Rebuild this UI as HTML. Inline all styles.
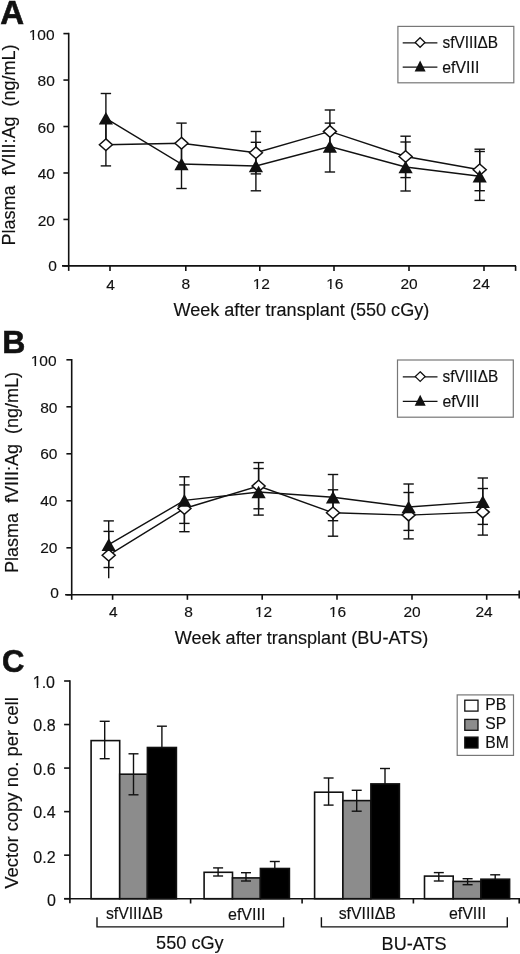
<!DOCTYPE html>
<html><head><meta charset="utf-8"><style>
html,body{margin:0;padding:0;background:#fff;}
body{width:520px;height:954px;overflow:hidden;}
svg{display:block;filter:grayscale(1) blur(0.3px);}
text{font-family:"Liberation Sans",sans-serif;fill:#111;stroke:#111;stroke-width:0.15px;}
text[font-weight=bold]{stroke-width:0.6px;}
</style></head><body>
<svg width="520" height="954" viewBox="0 0 520 954">
<rect width="520" height="954" fill="#fff"/>
<line x1="68.7" y1="32.800000000000004" x2="68.7" y2="265.9" stroke="#111" stroke-width="1.6" />
<line x1="62" y1="265.9" x2="516" y2="265.9" stroke="#111" stroke-width="1.6" />
<line x1="63.400000000000006" y1="33.6" x2="68.7" y2="33.6" stroke="#111" stroke-width="1.6" />
<line x1="63.400000000000006" y1="80.06" x2="68.7" y2="80.06" stroke="#111" stroke-width="1.6" />
<line x1="63.400000000000006" y1="126.51999999999998" x2="68.7" y2="126.51999999999998" stroke="#111" stroke-width="1.6" />
<line x1="63.400000000000006" y1="172.98" x2="68.7" y2="172.98" stroke="#111" stroke-width="1.6" />
<line x1="63.400000000000006" y1="219.43999999999997" x2="68.7" y2="219.43999999999997" stroke="#111" stroke-width="1.6" />
<line x1="63.400000000000006" y1="265.90000000000003" x2="68.7" y2="265.90000000000003" stroke="#111" stroke-width="1.6" />
<line x1="68.7" y1="265.9" x2="68.7" y2="270.9" stroke="#111" stroke-width="1.6" />
<line x1="110" y1="265.9" x2="110" y2="270.9" stroke="#111" stroke-width="1.6" />
<line x1="185.8" y1="265.9" x2="185.8" y2="270.9" stroke="#111" stroke-width="1.6" />
<line x1="259.8" y1="265.9" x2="259.8" y2="270.9" stroke="#111" stroke-width="1.6" />
<line x1="334" y1="265.9" x2="334" y2="270.9" stroke="#111" stroke-width="1.6" />
<line x1="409" y1="265.9" x2="409" y2="270.9" stroke="#111" stroke-width="1.6" />
<line x1="484" y1="265.9" x2="484" y2="270.9" stroke="#111" stroke-width="1.6" />
<line x1="515.6" y1="265.9" x2="515.6" y2="270.9" stroke="#111" stroke-width="1.6" />
<text x="54.6" y="39.6" font-size="15.5" text-anchor="end">100</text>
<rect x="29.12" y="37.39" width="3.41" height="3.41" fill="#fff"/>
<rect x="34.10" y="37.39" width="3.29" height="3.41" fill="#fff"/>
<text x="54.8" y="86.2" font-size="15.5" text-anchor="end">80</text>
<text x="54.8" y="132.6" font-size="15.5" text-anchor="end">60</text>
<text x="54.9" y="178.9" font-size="15.5" text-anchor="end">40</text>
<text x="54.9" y="225.7" font-size="15.5" text-anchor="end">20</text>
<text x="56.9" y="270.6" font-size="15.5" text-anchor="end">0</text>
<text x="110.6" y="290.2" font-size="15.5" text-anchor="middle">4</text>
<text x="185.8" y="289.4" font-size="15.5" text-anchor="middle">8</text>
<text x="261.3" y="289.2" font-size="15.5" text-anchor="middle">12</text>
<rect x="253.06" y="286.99" width="3.41" height="3.41" fill="#fff"/>
<rect x="258.04" y="286.99" width="3.29" height="3.41" fill="#fff"/>
<text x="334.8" y="289.4" font-size="15.5" text-anchor="middle">16</text>
<rect x="326.56" y="287.19" width="3.41" height="3.41" fill="#fff"/>
<rect x="331.54" y="287.19" width="3.29" height="3.41" fill="#fff"/>
<text x="409" y="289.4" font-size="15.5" text-anchor="middle">20</text>
<text x="481.2" y="289.2" font-size="15.5" text-anchor="middle">24</text>
<text x="173.4" y="315.8" font-size="18" textLength="255.9" lengthAdjust="spacingAndGlyphs">Week after transplant (550 cGy)</text>
<text x="15.3" y="245.5" font-size="18" transform="rotate(-90 15.3 245.5)">Plasma &#160;fVIII:Ag &#160;(ng/mL)</text>
<text x="0.3" y="23.8" font-size="33" font-weight="bold">A</text>
<line x1="105.9" y1="123.5" x2="105.9" y2="165.9" stroke="#111" stroke-width="1.4" />
<line x1="100.7" y1="165.9" x2="111.10000000000001" y2="165.9" stroke="#111" stroke-width="1.4" />
<line x1="105.9" y1="93.5" x2="105.9" y2="143.1" stroke="#111" stroke-width="1.4" />
<line x1="100.7" y1="93.5" x2="111.10000000000001" y2="93.5" stroke="#111" stroke-width="1.4" />
<line x1="181.5" y1="123.1" x2="181.5" y2="163.3" stroke="#111" stroke-width="1.4" />
<line x1="176.3" y1="123.1" x2="186.7" y2="123.1" stroke="#111" stroke-width="1.4" />
<line x1="181.5" y1="139.5" x2="181.5" y2="188.5" stroke="#111" stroke-width="1.4" />
<line x1="176.3" y1="188.5" x2="186.7" y2="188.5" stroke="#111" stroke-width="1.4" />
<line x1="255.9" y1="131.5" x2="255.9" y2="173.9" stroke="#111" stroke-width="1.4" />
<line x1="250.70000000000002" y1="131.5" x2="261.1" y2="131.5" stroke="#111" stroke-width="1.4" />
<line x1="250.70000000000002" y1="173.9" x2="261.1" y2="173.9" stroke="#111" stroke-width="1.4" />
<line x1="255.9" y1="142.3" x2="255.9" y2="190.8" stroke="#111" stroke-width="1.4" />
<line x1="250.70000000000002" y1="142.3" x2="261.1" y2="142.3" stroke="#111" stroke-width="1.4" />
<line x1="250.70000000000002" y1="190.8" x2="261.1" y2="190.8" stroke="#111" stroke-width="1.4" />
<line x1="329.9" y1="110" x2="329.9" y2="152.8" stroke="#111" stroke-width="1.4" />
<line x1="324.7" y1="110" x2="335.09999999999997" y2="110" stroke="#111" stroke-width="1.4" />
<line x1="329.9" y1="123.1" x2="329.9" y2="172" stroke="#111" stroke-width="1.4" />
<line x1="324.7" y1="123.1" x2="335.09999999999997" y2="123.1" stroke="#111" stroke-width="1.4" />
<line x1="324.7" y1="172" x2="335.09999999999997" y2="172" stroke="#111" stroke-width="1.4" />
<line x1="405.6" y1="136.2" x2="405.6" y2="177.6" stroke="#111" stroke-width="1.4" />
<line x1="400.40000000000003" y1="136.2" x2="410.8" y2="136.2" stroke="#111" stroke-width="1.4" />
<line x1="400.40000000000003" y1="177.6" x2="410.8" y2="177.6" stroke="#111" stroke-width="1.4" />
<line x1="405.6" y1="142" x2="405.6" y2="191" stroke="#111" stroke-width="1.4" />
<line x1="400.40000000000003" y1="142" x2="410.8" y2="142" stroke="#111" stroke-width="1.4" />
<line x1="400.40000000000003" y1="191" x2="410.8" y2="191" stroke="#111" stroke-width="1.4" />
<line x1="479.7" y1="149.2" x2="479.7" y2="190.7" stroke="#111" stroke-width="1.4" />
<line x1="474.5" y1="149.2" x2="484.9" y2="149.2" stroke="#111" stroke-width="1.4" />
<line x1="474.5" y1="190.7" x2="484.9" y2="190.7" stroke="#111" stroke-width="1.4" />
<line x1="479.7" y1="151.5" x2="479.7" y2="200.4" stroke="#111" stroke-width="1.4" />
<line x1="474.5" y1="151.5" x2="484.9" y2="151.5" stroke="#111" stroke-width="1.4" />
<line x1="474.5" y1="200.4" x2="484.9" y2="200.4" stroke="#111" stroke-width="1.4" />
<polyline fill="none" stroke="#111" stroke-width="1.4" points="105.9,144.7 181.5,143.2 255.9,152.7 329.9,131.4 405.6,156.5 479.7,169.8"/>
<polyline fill="none" stroke="#111" stroke-width="1.4" points="105.9,118.3 181.5,164.0 255.9,166.0 329.9,146.5 405.6,167.0 479.7,176.3"/>
<path d="M105.9 138.89999999999998L112.4 144.7L105.9 150.5L99.4 144.7Z" fill="#fff" stroke="#111" stroke-width="1.5"/>
<path d="M181.5 137.39999999999998L188.0 143.2L181.5 149.0L175.0 143.2Z" fill="#fff" stroke="#111" stroke-width="1.5"/>
<path d="M255.9 146.89999999999998L262.4 152.7L255.9 158.5L249.4 152.7Z" fill="#fff" stroke="#111" stroke-width="1.5"/>
<path d="M329.9 125.60000000000001L336.4 131.4L329.9 137.20000000000002L323.4 131.4Z" fill="#fff" stroke="#111" stroke-width="1.5"/>
<path d="M405.6 150.7L412.1 156.5L405.6 162.3L399.1 156.5Z" fill="#fff" stroke="#111" stroke-width="1.5"/>
<path d="M479.7 164.0L486.2 169.8L479.7 175.60000000000002L473.2 169.8Z" fill="#fff" stroke="#111" stroke-width="1.5"/>
<path d="M105.9 112.0L113.0 124.6L98.80000000000001 124.6Z" fill="#111"/>
<path d="M181.5 157.7L188.6 170.3L174.4 170.3Z" fill="#111"/>
<path d="M255.9 159.7L263.0 172.3L248.8 172.3Z" fill="#111"/>
<path d="M329.9 140.2L337.0 152.8L322.79999999999995 152.8Z" fill="#111"/>
<path d="M405.6 160.7L412.70000000000005 173.3L398.5 173.3Z" fill="#111"/>
<path d="M479.7 170.0L486.8 182.60000000000002L472.59999999999997 182.60000000000002Z" fill="#111"/>
<rect x="397.9" y="26.4" width="115.89999999999998" height="56.4" fill="#fff" stroke="#777" stroke-width="1.2"/>
<line x1="402.7" y1="42.8" x2="437.4" y2="42.8" stroke="#111" stroke-width="1.2" />
<path d="M420.09999999999997 37.7L424.99999999999994 42.5L420.09999999999997 47.3L415.2 42.5Z" fill="#fff" stroke="#111" stroke-width="1.3"/>
<line x1="402.7" y1="67.19999999999999" x2="437.4" y2="67.19999999999999" stroke="#111" stroke-width="1.2" />
<path d="M420.09999999999997 60.599999999999994L425.59999999999997 71.6L414.59999999999997 71.6Z" fill="#111"/>
<text x="442.5" y="47.599999999999994" font-size="15.9" textLength="55.6" lengthAdjust="spacingAndGlyphs">sfVIII&#916;B</text>
<text x="442.29999999999995" y="72.6" font-size="15.9" textLength="37.0" lengthAdjust="spacingAndGlyphs">efVIII</text>
<line x1="71.7" y1="359.0" x2="71.7" y2="594.8" stroke="#111" stroke-width="1.6" />
<line x1="65.1" y1="594.8" x2="520" y2="594.8" stroke="#111" stroke-width="1.6" />
<line x1="66.4" y1="359.8" x2="71.7" y2="359.8" stroke="#111" stroke-width="1.6" />
<line x1="66.4" y1="406.8" x2="71.7" y2="406.8" stroke="#111" stroke-width="1.6" />
<line x1="66.4" y1="453.79999999999995" x2="71.7" y2="453.79999999999995" stroke="#111" stroke-width="1.6" />
<line x1="66.4" y1="500.79999999999995" x2="71.7" y2="500.79999999999995" stroke="#111" stroke-width="1.6" />
<line x1="66.4" y1="547.8" x2="71.7" y2="547.8" stroke="#111" stroke-width="1.6" />
<line x1="66.4" y1="594.8" x2="71.7" y2="594.8" stroke="#111" stroke-width="1.6" />
<line x1="71.7" y1="594.8" x2="71.7" y2="599.8" stroke="#111" stroke-width="1.6" />
<line x1="112.6" y1="594.8" x2="112.6" y2="599.8" stroke="#111" stroke-width="1.6" />
<line x1="187.4" y1="594.8" x2="187.4" y2="599.8" stroke="#111" stroke-width="1.6" />
<line x1="262.2" y1="594.8" x2="262.2" y2="599.8" stroke="#111" stroke-width="1.6" />
<line x1="337" y1="594.8" x2="337" y2="599.8" stroke="#111" stroke-width="1.6" />
<line x1="412" y1="594.8" x2="412" y2="599.8" stroke="#111" stroke-width="1.6" />
<line x1="486.7" y1="594.8" x2="486.7" y2="599.8" stroke="#111" stroke-width="1.6" />
<line x1="519.2" y1="590.5" x2="519.2" y2="598.5" stroke="#111" stroke-width="1.6" />
<text x="56.6" y="366.1" font-size="15.5" text-anchor="end">100</text>
<rect x="31.12" y="363.89" width="3.41" height="3.41" fill="#fff"/>
<rect x="36.10" y="363.89" width="3.29" height="3.41" fill="#fff"/>
<text x="57.4" y="412.7" font-size="15.5" text-anchor="end">80</text>
<text x="57.4" y="459.1" font-size="15.5" text-anchor="end">60</text>
<text x="57.5" y="505.8" font-size="15.5" text-anchor="end">40</text>
<text x="57.5" y="552.5" font-size="15.5" text-anchor="end">20</text>
<text x="58.8" y="597.7" font-size="15.5" text-anchor="end">0</text>
<text x="113.3" y="616.8" font-size="15.5" text-anchor="middle">4</text>
<text x="188.5" y="616.8" font-size="15.5" text-anchor="middle">8</text>
<text x="263.6" y="616.8" font-size="15.5" text-anchor="middle">12</text>
<rect x="255.36" y="614.59" width="3.41" height="3.41" fill="#fff"/>
<rect x="260.34" y="614.59" width="3.29" height="3.41" fill="#fff"/>
<text x="337.5" y="616.8" font-size="15.5" text-anchor="middle">16</text>
<rect x="329.26" y="614.59" width="3.41" height="3.41" fill="#fff"/>
<rect x="334.24" y="614.59" width="3.29" height="3.41" fill="#fff"/>
<text x="412" y="616.8" font-size="15.5" text-anchor="middle">20</text>
<text x="484.1" y="616.6" font-size="15.5" text-anchor="middle">24</text>
<text x="174.7" y="643.7" font-size="18" textLength="253.6" lengthAdjust="spacingAndGlyphs">Week after transplant (BU-ATS)</text>
<text x="17.9" y="573.1" font-size="18" transform="rotate(-90 17.9 573.1)">Plasma &#160;fVIII:Ag &#160;(ng/mL)</text>
<text x="2.2" y="353.1" font-size="32" font-weight="bold">B</text>
<line x1="108.7" y1="531.4" x2="108.7" y2="578.3" stroke="#111" stroke-width="1.4" />
<line x1="103.5" y1="531.4" x2="113.9" y2="531.4" stroke="#111" stroke-width="1.4" />
<line x1="108.7" y1="520.9" x2="108.7" y2="567.5" stroke="#111" stroke-width="1.4" />
<line x1="103.5" y1="520.9" x2="113.9" y2="520.9" stroke="#111" stroke-width="1.4" />
<line x1="103.5" y1="567.5" x2="113.9" y2="567.5" stroke="#111" stroke-width="1.4" />
<line x1="184.4" y1="484.9" x2="184.4" y2="531.7" stroke="#111" stroke-width="1.4" />
<line x1="179.20000000000002" y1="484.9" x2="189.6" y2="484.9" stroke="#111" stroke-width="1.4" />
<line x1="179.20000000000002" y1="531.7" x2="189.6" y2="531.7" stroke="#111" stroke-width="1.4" />
<line x1="184.4" y1="476.8" x2="184.4" y2="523.4" stroke="#111" stroke-width="1.4" />
<line x1="179.20000000000002" y1="476.8" x2="189.6" y2="476.8" stroke="#111" stroke-width="1.4" />
<line x1="179.20000000000002" y1="523.4" x2="189.6" y2="523.4" stroke="#111" stroke-width="1.4" />
<line x1="258.6" y1="462.6" x2="258.6" y2="508.8" stroke="#111" stroke-width="1.4" />
<line x1="253.40000000000003" y1="462.6" x2="263.8" y2="462.6" stroke="#111" stroke-width="1.4" />
<line x1="253.40000000000003" y1="508.8" x2="263.8" y2="508.8" stroke="#111" stroke-width="1.4" />
<line x1="258.6" y1="468.5" x2="258.6" y2="515.1" stroke="#111" stroke-width="1.4" />
<line x1="253.40000000000003" y1="468.5" x2="263.8" y2="468.5" stroke="#111" stroke-width="1.4" />
<line x1="253.40000000000003" y1="515.1" x2="263.8" y2="515.1" stroke="#111" stroke-width="1.4" />
<line x1="333.0" y1="489.8" x2="333.0" y2="536.2" stroke="#111" stroke-width="1.4" />
<line x1="327.8" y1="489.8" x2="338.2" y2="489.8" stroke="#111" stroke-width="1.4" />
<line x1="327.8" y1="536.2" x2="338.2" y2="536.2" stroke="#111" stroke-width="1.4" />
<line x1="333.0" y1="474.5" x2="333.0" y2="520.7" stroke="#111" stroke-width="1.4" />
<line x1="327.8" y1="474.5" x2="338.2" y2="474.5" stroke="#111" stroke-width="1.4" />
<line x1="327.8" y1="520.7" x2="338.2" y2="520.7" stroke="#111" stroke-width="1.4" />
<line x1="408.6" y1="492.5" x2="408.6" y2="538.9" stroke="#111" stroke-width="1.4" />
<line x1="403.40000000000003" y1="492.5" x2="413.8" y2="492.5" stroke="#111" stroke-width="1.4" />
<line x1="403.40000000000003" y1="538.9" x2="413.8" y2="538.9" stroke="#111" stroke-width="1.4" />
<line x1="408.6" y1="484" x2="408.6" y2="530.4" stroke="#111" stroke-width="1.4" />
<line x1="403.40000000000003" y1="484" x2="413.8" y2="484" stroke="#111" stroke-width="1.4" />
<line x1="403.40000000000003" y1="530.4" x2="413.8" y2="530.4" stroke="#111" stroke-width="1.4" />
<line x1="482.8" y1="488.5" x2="482.8" y2="535.1" stroke="#111" stroke-width="1.4" />
<line x1="477.6" y1="488.5" x2="488.0" y2="488.5" stroke="#111" stroke-width="1.4" />
<line x1="477.6" y1="535.1" x2="488.0" y2="535.1" stroke="#111" stroke-width="1.4" />
<line x1="482.8" y1="478" x2="482.8" y2="524.4" stroke="#111" stroke-width="1.4" />
<line x1="477.6" y1="478" x2="488.0" y2="478" stroke="#111" stroke-width="1.4" />
<line x1="477.6" y1="524.4" x2="488.0" y2="524.4" stroke="#111" stroke-width="1.4" />
<polyline fill="none" stroke="#111" stroke-width="1.4" points="108.7,555.2 184.4,508.5 258.6,486.0 333.0,512.8 408.6,515.1 482.8,512.1"/>
<polyline fill="none" stroke="#111" stroke-width="1.4" points="108.7,544.6 184.4,500.4 258.6,492.0 333.0,497.3 408.6,507.0 482.8,501.6"/>
<path d="M108.7 549.4000000000001L115.2 555.2L108.7 561.0L102.2 555.2Z" fill="#fff" stroke="#111" stroke-width="1.5"/>
<path d="M184.4 502.7L190.9 508.5L184.4 514.3L177.9 508.5Z" fill="#fff" stroke="#111" stroke-width="1.5"/>
<path d="M258.6 480.2L265.1 486.0L258.6 491.8L252.10000000000002 486.0Z" fill="#fff" stroke="#111" stroke-width="1.5"/>
<path d="M333.0 506.99999999999994L339.5 512.8L333.0 518.5999999999999L326.5 512.8Z" fill="#fff" stroke="#111" stroke-width="1.5"/>
<path d="M408.6 509.3L415.1 515.1L408.6 520.9L402.1 515.1Z" fill="#fff" stroke="#111" stroke-width="1.5"/>
<path d="M482.8 506.3L489.3 512.1L482.8 517.9L476.3 512.1Z" fill="#fff" stroke="#111" stroke-width="1.5"/>
<path d="M108.7 538.3000000000001L115.8 550.9L101.60000000000001 550.9Z" fill="#111"/>
<path d="M184.4 494.09999999999997L191.5 506.7L177.3 506.7Z" fill="#111"/>
<path d="M258.6 485.7L265.70000000000005 498.3L251.50000000000003 498.3Z" fill="#111"/>
<path d="M333.0 491.0L340.1 503.6L325.9 503.6Z" fill="#111"/>
<path d="M408.6 500.7L415.70000000000005 513.3L401.5 513.3Z" fill="#111"/>
<path d="M482.8 495.3L489.90000000000003 507.90000000000003L475.7 507.90000000000003Z" fill="#111"/>
<rect x="397.5" y="360" width="115.79999999999995" height="57.19999999999999" fill="#fff" stroke="#777" stroke-width="1.2"/>
<line x1="402.8" y1="376.9" x2="437.5" y2="376.9" stroke="#111" stroke-width="1.2" />
<path d="M420.2 371.79999999999995L425.09999999999997 376.59999999999997L420.2 381.4L415.3 376.59999999999997Z" fill="#fff" stroke="#111" stroke-width="1.3"/>
<line x1="402.8" y1="401.3" x2="437.5" y2="401.3" stroke="#111" stroke-width="1.2" />
<path d="M420.2 394.7L425.7 405.7L414.7 405.7Z" fill="#111"/>
<text x="442.6" y="381.7" font-size="15.9" textLength="55.6" lengthAdjust="spacingAndGlyphs">sfVIII&#916;B</text>
<text x="442.4" y="406.7" font-size="15.9" textLength="37.0" lengthAdjust="spacingAndGlyphs">efVIII</text>
<rect x="91.1" y="740.6" width="28.60000000000001" height="158.10000000000002" fill="#fff" stroke="#111" stroke-width="1.6"/>
<rect x="119.7" y="774.2" width="27.700000000000003" height="124.5" fill="#8c8c8c" stroke="#111" stroke-width="1.6"/>
<rect x="147.4" y="747.5" width="29.0" height="151.20000000000005" fill="#000" stroke="#111" stroke-width="1.6"/>
<line x1="104.7" y1="721.3" x2="104.7" y2="758.7" stroke="#111" stroke-width="1.4" />
<line x1="99.7" y1="721.3" x2="109.7" y2="721.3" stroke="#111" stroke-width="1.4" />
<line x1="99.7" y1="758.7" x2="109.7" y2="758.7" stroke="#111" stroke-width="1.4" />
<line x1="133.5" y1="753.8" x2="133.5" y2="794.8" stroke="#111" stroke-width="1.4" />
<line x1="128.5" y1="753.8" x2="138.5" y2="753.8" stroke="#111" stroke-width="1.4" />
<line x1="128.5" y1="794.8" x2="138.5" y2="794.8" stroke="#111" stroke-width="1.4" />
<line x1="161.9" y1="726.2" x2="161.9" y2="747.5" stroke="#111" stroke-width="1.4" />
<line x1="156.9" y1="726.2" x2="166.9" y2="726.2" stroke="#111" stroke-width="1.4" />
<rect x="204.1" y="872.3" width="28.400000000000006" height="26.40000000000009" fill="#fff" stroke="#111" stroke-width="1.6"/>
<rect x="232.5" y="877.9" width="27.899999999999977" height="20.800000000000068" fill="#8c8c8c" stroke="#111" stroke-width="1.6"/>
<rect x="260.4" y="868.5" width="29.0" height="30.200000000000045" fill="#000" stroke="#111" stroke-width="1.6"/>
<line x1="218.1" y1="867.9" x2="218.1" y2="876" stroke="#111" stroke-width="1.4" />
<line x1="213.1" y1="867.9" x2="223.1" y2="867.9" stroke="#111" stroke-width="1.4" />
<line x1="213.1" y1="876" x2="223.1" y2="876" stroke="#111" stroke-width="1.4" />
<line x1="246" y1="872.7" x2="246" y2="881" stroke="#111" stroke-width="1.4" />
<line x1="241.0" y1="872.7" x2="251.0" y2="872.7" stroke="#111" stroke-width="1.4" />
<line x1="241.0" y1="881" x2="251.0" y2="881" stroke="#111" stroke-width="1.4" />
<line x1="274.8" y1="861.5" x2="274.8" y2="868.5" stroke="#111" stroke-width="1.4" />
<line x1="269.8" y1="861.5" x2="279.8" y2="861.5" stroke="#111" stroke-width="1.4" />
<rect x="314.6" y="792.2" width="28.299999999999955" height="106.5" fill="#fff" stroke="#111" stroke-width="1.6"/>
<rect x="342.9" y="800.6" width="28.0" height="98.10000000000002" fill="#8c8c8c" stroke="#111" stroke-width="1.6"/>
<rect x="370.9" y="783.9" width="28.5" height="114.80000000000007" fill="#000" stroke="#111" stroke-width="1.6"/>
<line x1="328.6" y1="778" x2="328.6" y2="805.1" stroke="#111" stroke-width="1.4" />
<line x1="323.6" y1="778" x2="333.6" y2="778" stroke="#111" stroke-width="1.4" />
<line x1="323.6" y1="805.1" x2="333.6" y2="805.1" stroke="#111" stroke-width="1.4" />
<line x1="356.7" y1="790.3" x2="356.7" y2="811.2" stroke="#111" stroke-width="1.4" />
<line x1="351.7" y1="790.3" x2="361.7" y2="790.3" stroke="#111" stroke-width="1.4" />
<line x1="351.7" y1="811.2" x2="361.7" y2="811.2" stroke="#111" stroke-width="1.4" />
<line x1="385" y1="768.5" x2="385" y2="783.9" stroke="#111" stroke-width="1.4" />
<line x1="380.0" y1="768.5" x2="390.0" y2="768.5" stroke="#111" stroke-width="1.4" />
<rect x="424.5" y="876.1" width="28.69999999999999" height="22.600000000000023" fill="#fff" stroke="#111" stroke-width="1.6"/>
<rect x="453.2" y="881.4" width="27.69999999999999" height="17.300000000000068" fill="#8c8c8c" stroke="#111" stroke-width="1.6"/>
<rect x="480.9" y="879.2" width="28.700000000000045" height="19.5" fill="#000" stroke="#111" stroke-width="1.6"/>
<line x1="438.8" y1="872.6" x2="438.8" y2="881" stroke="#111" stroke-width="1.4" />
<line x1="433.8" y1="872.6" x2="443.8" y2="872.6" stroke="#111" stroke-width="1.4" />
<line x1="433.8" y1="881" x2="443.8" y2="881" stroke="#111" stroke-width="1.4" />
<line x1="467.6" y1="878.7" x2="467.6" y2="884.7" stroke="#111" stroke-width="1.4" />
<line x1="462.6" y1="878.7" x2="472.6" y2="878.7" stroke="#111" stroke-width="1.4" />
<line x1="462.6" y1="884.7" x2="472.6" y2="884.7" stroke="#111" stroke-width="1.4" />
<line x1="495.2" y1="874.8" x2="495.2" y2="879.2" stroke="#111" stroke-width="1.4" />
<line x1="490.2" y1="874.8" x2="500.2" y2="874.8" stroke="#111" stroke-width="1.4" />
<line x1="69.9" y1="680.2" x2="69.9" y2="903.2" stroke="#111" stroke-width="1.6" />
<line x1="64.2" y1="898.7" x2="520" y2="898.7" stroke="#111" stroke-width="1.6" />
<line x1="64.10000000000001" y1="681.0" x2="69.9" y2="681.0" stroke="#111" stroke-width="1.6" />
<line x1="64.10000000000001" y1="724.54" x2="69.9" y2="724.54" stroke="#111" stroke-width="1.6" />
<line x1="64.10000000000001" y1="768.08" x2="69.9" y2="768.08" stroke="#111" stroke-width="1.6" />
<line x1="64.10000000000001" y1="811.62" x2="69.9" y2="811.62" stroke="#111" stroke-width="1.6" />
<line x1="64.10000000000001" y1="855.1600000000001" x2="69.9" y2="855.1600000000001" stroke="#111" stroke-width="1.6" />
<line x1="64.10000000000001" y1="898.7" x2="69.9" y2="898.7" stroke="#111" stroke-width="1.6" />
<line x1="190.6" y1="898.7" x2="190.6" y2="903.5" stroke="#111" stroke-width="1.6" />
<line x1="302.1" y1="898.7" x2="302.1" y2="903.5" stroke="#111" stroke-width="1.6" />
<line x1="413.4" y1="898.7" x2="413.4" y2="903.5" stroke="#111" stroke-width="1.6" />
<line x1="519.2" y1="898.7" x2="519.2" y2="903.5" stroke="#111" stroke-width="1.6" />
<text x="55.0" y="687.6" font-size="16" text-anchor="end">1.0</text>
<rect x="33.18" y="685.35" width="3.50" height="3.45" fill="#fff"/>
<rect x="38.28" y="685.35" width="3.37" height="3.45" fill="#fff"/>
<text x="55.6" y="730.8" font-size="16" text-anchor="end">0.8</text>
<text x="55.6" y="774.6" font-size="16" text-anchor="end">0.6</text>
<text x="55.6" y="817.6" font-size="16" text-anchor="end">0.4</text>
<text x="55.6" y="862.5" font-size="16" text-anchor="end">0.2</text>
<text x="55.8" y="905.6" font-size="16" text-anchor="end">0</text>
<text x="17.9" y="888.7" font-size="18.5" textLength="191.5" lengthAdjust="spacingAndGlyphs" transform="rotate(-90 17.9 888.7)">Vector copy no. per cell</text>
<text x="2.1" y="672.1" font-size="31" font-weight="bold">C</text>
<path d="M97.0 917.2V926.9H283.6V917.2" fill="none" stroke="#111" stroke-width="1.4"/>
<path d="M321.4 917.2V926.9H507.3V917.2" fill="none" stroke="#111" stroke-width="1.4"/>
<text x="105.9" y="919.3" font-size="16" textLength="57.1" lengthAdjust="spacingAndGlyphs">sfVIII&#916;B</text>
<text x="228.0" y="919.9" font-size="16" textLength="37.4" lengthAdjust="spacingAndGlyphs">efVIII</text>
<text x="338.7" y="919.3" font-size="16" textLength="57.1" lengthAdjust="spacingAndGlyphs">sfVIII&#916;B</text>
<text x="448.9" y="919.3" font-size="16" textLength="37.2" lengthAdjust="spacingAndGlyphs">efVIII</text>
<text x="156.1" y="948.8" font-size="18" textLength="67.6" lengthAdjust="spacingAndGlyphs">550 cGy</text>
<text x="381.6" y="949.5" font-size="18" textLength="65.0" lengthAdjust="spacingAndGlyphs">BU-ATS</text>
<rect x="457.2" y="694.9" width="56.3" height="60.5" fill="#fff" stroke="#777" stroke-width="1.2"/>
<rect x="464.8" y="700.2" width="13.2" height="10.9" fill="#fff" stroke="#111" stroke-width="1.3"/>
<rect x="464.8" y="719.4" width="13.2" height="10.9" fill="#8c8c8c" stroke="#111" stroke-width="1.3"/>
<rect x="464.8" y="737.1" width="13.2" height="10.9" fill="#000" stroke="#111" stroke-width="1.3"/>
<text x="485.2" y="710.4" font-size="15.7">PB</text>
<text x="485.2" y="729.1" font-size="15.7">SP</text>
<text x="485.2" y="747.7" font-size="15.7">BM</text>
</svg>
</body></html>
